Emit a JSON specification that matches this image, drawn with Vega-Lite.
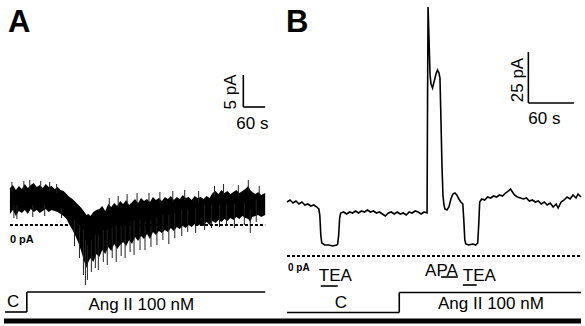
{
  "$schema": "https://vega.github.io/schema/vega-lite/v6.json",
  "width": 585,
  "height": 326,
  "autosize": {"type": "fit", "contains": "padding"},
  "padding": 0,
  "background": "white",
  "config": {"view": {"stroke": null}},
  "datasets": {
    "traceA": [
      {"x": 10, "top": 188, "bottom": 214}, {"x": 13, "top": 185, "bottom": 210}, {"x": 16, "top": 190, "bottom": 216},
      {"x": 19, "top": 186, "bottom": 211}, {"x": 22, "top": 189, "bottom": 213}, {"x": 25, "top": 184, "bottom": 210},
      {"x": 28, "top": 188, "bottom": 214}, {"x": 31, "top": 185, "bottom": 209}, {"x": 34, "top": 183, "bottom": 212},
      {"x": 37, "top": 187, "bottom": 210}, {"x": 40, "top": 185, "bottom": 213}, {"x": 43, "top": 188, "bottom": 211},
      {"x": 46, "top": 184, "bottom": 209}, {"x": 49, "top": 187, "bottom": 212}, {"x": 52, "top": 186, "bottom": 210},
      {"x": 55, "top": 189, "bottom": 211}, {"x": 58, "top": 187, "bottom": 212}, {"x": 61, "top": 190, "bottom": 214},
      {"x": 64, "top": 191, "bottom": 216}, {"x": 67, "top": 194, "bottom": 219}, {"x": 70, "top": 197, "bottom": 225},
      {"x": 73, "top": 199, "bottom": 230}, {"x": 76, "top": 202, "bottom": 236}, {"x": 79, "top": 205, "bottom": 243},
      {"x": 82, "top": 208, "bottom": 252}, {"x": 85, "top": 212, "bottom": 262}, {"x": 87, "top": 215, "bottom": 268},
      {"x": 89, "top": 214, "bottom": 262}, {"x": 91, "top": 216, "bottom": 258}, {"x": 94, "top": 212, "bottom": 262},
      {"x": 97, "top": 210, "bottom": 254}, {"x": 100, "top": 209, "bottom": 257}, {"x": 103, "top": 206, "bottom": 250},
      {"x": 106, "top": 211, "bottom": 254}, {"x": 109, "top": 204, "bottom": 247}, {"x": 112, "top": 207, "bottom": 251},
      {"x": 115, "top": 203, "bottom": 244}, {"x": 118, "top": 206, "bottom": 249}, {"x": 121, "top": 201, "bottom": 245},
      {"x": 124, "top": 204, "bottom": 242}, {"x": 127, "top": 200, "bottom": 246}, {"x": 130, "top": 205, "bottom": 240},
      {"x": 133, "top": 202, "bottom": 244}, {"x": 136, "top": 199, "bottom": 237}, {"x": 139, "top": 203, "bottom": 241},
      {"x": 142, "top": 198, "bottom": 236}, {"x": 145, "top": 201, "bottom": 239}, {"x": 148, "top": 199, "bottom": 234},
      {"x": 151, "top": 202, "bottom": 239}, {"x": 154, "top": 197, "bottom": 232}, {"x": 157, "top": 200, "bottom": 235},
      {"x": 160, "top": 198, "bottom": 231}, {"x": 163, "top": 201, "bottom": 233}, {"x": 166, "top": 197, "bottom": 230},
      {"x": 169, "top": 199, "bottom": 232}, {"x": 172, "top": 196, "bottom": 228}, {"x": 175, "top": 200, "bottom": 231},
      {"x": 178, "top": 197, "bottom": 227}, {"x": 181, "top": 199, "bottom": 229}, {"x": 184, "top": 195, "bottom": 226},
      {"x": 187, "top": 198, "bottom": 228}, {"x": 190, "top": 197, "bottom": 225}, {"x": 193, "top": 200, "bottom": 227},
      {"x": 196, "top": 196, "bottom": 224}, {"x": 199, "top": 198, "bottom": 226}, {"x": 202, "top": 197, "bottom": 224},
      {"x": 205, "top": 199, "bottom": 226}, {"x": 208, "top": 196, "bottom": 222}, {"x": 211, "top": 198, "bottom": 225},
      {"x": 214, "top": 193, "bottom": 221}, {"x": 217, "top": 191, "bottom": 223}, {"x": 220, "top": 194, "bottom": 220},
      {"x": 223, "top": 190, "bottom": 222}, {"x": 226, "top": 193, "bottom": 219}, {"x": 229, "top": 191, "bottom": 221},
      {"x": 232, "top": 194, "bottom": 218}, {"x": 235, "top": 192, "bottom": 220}, {"x": 238, "top": 190, "bottom": 217},
      {"x": 241, "top": 193, "bottom": 219}, {"x": 244, "top": 191, "bottom": 216}, {"x": 247, "top": 189, "bottom": 218},
      {"x": 250, "top": 186, "bottom": 219}, {"x": 252, "top": 190, "bottom": 222}, {"x": 254, "top": 192, "bottom": 217},
      {"x": 257, "top": 194, "bottom": 216}, {"x": 260, "top": 192, "bottom": 215}, {"x": 263, "top": 195, "bottom": 217},
      {"x": 267, "top": 193, "bottom": 215}
    ],
    "spikesA": [
      {"x": 12, "y": 182, "y2": 192}, {"x": 14, "y": 205, "y2": 218}, {"x": 17, "y": 205, "y2": 219}, {"x": 24, "y": 181, "y2": 190},
      {"x": 30, "y": 180, "y2": 190}, {"x": 33, "y": 205, "y2": 217}, {"x": 41, "y": 181, "y2": 190}, {"x": 45, "y": 205, "y2": 216},
      {"x": 50, "y": 182, "y2": 192}, {"x": 57, "y": 184, "y2": 193}, {"x": 62, "y": 208, "y2": 218},
      {"x": 75, "y": 220, "y2": 246}, {"x": 80, "y": 225, "y2": 258}, {"x": 84, "y": 230, "y2": 275}, {"x": 86, "y": 240, "y2": 285},
      {"x": 88, "y": 245, "y2": 280}, {"x": 92, "y": 240, "y2": 272}, {"x": 96, "y": 235, "y2": 268}, {"x": 99, "y": 235, "y2": 270},
      {"x": 104, "y": 230, "y2": 262}, {"x": 108, "y": 230, "y2": 265}, {"x": 113, "y": 228, "y2": 258}, {"x": 117, "y": 225, "y2": 262},
      {"x": 122, "y": 225, "y2": 256}, {"x": 126, "y": 225, "y2": 258}, {"x": 131, "y": 225, "y2": 252}, {"x": 135, "y": 220, "y2": 255},
      {"x": 141, "y": 220, "y2": 250}, {"x": 146, "y": 222, "y2": 250}, {"x": 152, "y": 220, "y2": 247}, {"x": 158, "y": 218, "y2": 245},
      {"x": 164, "y": 215, "y2": 240}, {"x": 170, "y": 215, "y2": 244}, {"x": 176, "y": 213, "y2": 238}, {"x": 183, "y": 210, "y2": 236},
      {"x": 189, "y": 210, "y2": 232}, {"x": 197, "y": 208, "y2": 233}, {"x": 206, "y": 205, "y2": 230}, {"x": 213, "y": 205, "y2": 228},
      {"x": 221, "y": 205, "y2": 227}, {"x": 228, "y": 205, "y2": 226}, {"x": 236, "y": 204, "y2": 228}, {"x": 246, "y": 203, "y2": 225},
      {"x": 252, "y": 210, "y2": 233}, {"x": 258, "y": 200, "y2": 222},
      {"x": 110, "y": 198, "y2": 210}, {"x": 119, "y": 196, "y2": 208}, {"x": 128, "y": 194, "y2": 205}, {"x": 138, "y": 193, "y2": 204},
      {"x": 150, "y": 193, "y2": 204}, {"x": 161, "y": 192, "y2": 203}, {"x": 174, "y": 191, "y2": 202}, {"x": 186, "y": 190, "y2": 200},
      {"x": 200, "y": 191, "y2": 202}, {"x": 216, "y": 186, "y2": 197}, {"x": 225, "y": 184, "y2": 195}, {"x": 240, "y": 185, "y2": 196},
      {"x": 250, "y": 180, "y2": 192}, {"x": 261, "y": 186, "y2": 196}
    ],
    "traceB": [
      {"x": 289, "y": 202}, {"x": 292, "y": 200}, {"x": 295, "y": 203}, {"x": 298, "y": 201}, {"x": 301, "y": 204},
      {"x": 304, "y": 202}, {"x": 307, "y": 205}, {"x": 310, "y": 204}, {"x": 313, "y": 206}, {"x": 316, "y": 205},
      {"x": 319, "y": 207}, {"x": 321, "y": 209}, {"x": 322, "y": 215}, {"x": 323, "y": 235}, {"x": 324, "y": 243},
      {"x": 327, "y": 245}, {"x": 331, "y": 245}, {"x": 335, "y": 246}, {"x": 339, "y": 245}, {"x": 340, "y": 244},
      {"x": 341, "y": 235}, {"x": 342, "y": 218}, {"x": 343, "y": 213}, {"x": 346, "y": 212}, {"x": 349, "y": 214},
      {"x": 352, "y": 212}, {"x": 355, "y": 213}, {"x": 358, "y": 211}, {"x": 361, "y": 213}, {"x": 364, "y": 211},
      {"x": 367, "y": 212}, {"x": 370, "y": 210}, {"x": 373, "y": 212}, {"x": 376, "y": 211}, {"x": 379, "y": 213},
      {"x": 382, "y": 212}, {"x": 385, "y": 214}, {"x": 388, "y": 216}, {"x": 391, "y": 213}, {"x": 394, "y": 212},
      {"x": 397, "y": 214}, {"x": 400, "y": 212}, {"x": 403, "y": 214}, {"x": 406, "y": 213}, {"x": 409, "y": 215},
      {"x": 412, "y": 212}, {"x": 415, "y": 213}, {"x": 418, "y": 211}, {"x": 421, "y": 212}, {"x": 424, "y": 214},
      {"x": 427, "y": 212}, {"x": 430, "y": 213}, {"x": 430.5, "y": 100}, {"x": 431, "y": 7}, {"x": 432, "y": 40},
      {"x": 433, "y": 75}, {"x": 434, "y": 84}, {"x": 435.5, "y": 88}, {"x": 437, "y": 82}, {"x": 439, "y": 74},
      {"x": 440.5, "y": 70}, {"x": 442, "y": 73}, {"x": 443, "y": 78}, {"x": 444, "y": 120}, {"x": 445, "y": 165},
      {"x": 446, "y": 195}, {"x": 447, "y": 205}, {"x": 448, "y": 209}, {"x": 450, "y": 210}, {"x": 452, "y": 207},
      {"x": 454, "y": 199}, {"x": 456, "y": 194}, {"x": 458, "y": 193}, {"x": 460, "y": 195}, {"x": 462, "y": 199},
      {"x": 464, "y": 202}, {"x": 466, "y": 204}, {"x": 467, "y": 220}, {"x": 468, "y": 240}, {"x": 469, "y": 244},
      {"x": 472, "y": 245}, {"x": 476, "y": 244}, {"x": 479, "y": 245}, {"x": 481, "y": 243}, {"x": 482, "y": 225},
      {"x": 483, "y": 202}, {"x": 485, "y": 199}, {"x": 488, "y": 200}, {"x": 491, "y": 197}, {"x": 494, "y": 198},
      {"x": 497, "y": 196}, {"x": 500, "y": 197}, {"x": 503, "y": 195}, {"x": 506, "y": 196}, {"x": 509, "y": 193},
      {"x": 512, "y": 191}, {"x": 514, "y": 189}, {"x": 516, "y": 192}, {"x": 518, "y": 195}, {"x": 521, "y": 197},
      {"x": 524, "y": 198}, {"x": 527, "y": 199}, {"x": 530, "y": 198}, {"x": 533, "y": 201}, {"x": 536, "y": 200},
      {"x": 539, "y": 202}, {"x": 542, "y": 201}, {"x": 545, "y": 204}, {"x": 548, "y": 202}, {"x": 551, "y": 205},
      {"x": 554, "y": 203}, {"x": 557, "y": 207}, {"x": 560, "y": 204}, {"x": 562, "y": 208}, {"x": 565, "y": 202},
      {"x": 568, "y": 200}, {"x": 571, "y": 197}, {"x": 574, "y": 199}, {"x": 577, "y": 195}, {"x": 580, "y": 198},
      {"x": 582, "y": 194}, {"x": 585, "y": 197}
    ],
    "zeroLines": [
      {"x": 10, "x2": 267, "y": 225},
      {"x": 289, "x2": 585, "y": 256}
    ],
    "segments": [
      {"x": 245, "y": 75, "x2": 245, "y2": 107},
      {"x": 245, "y": 107, "x2": 267, "y2": 107},
      {"x": 532, "y": 52, "x2": 532, "y2": 103},
      {"x": 532, "y": 103, "x2": 578, "y2": 103},
      {"x": 5, "y": 312, "x2": 27, "y2": 312},
      {"x": 27, "y": 312, "x2": 27, "y2": 292},
      {"x": 27, "y": 292, "x2": 267, "y2": 292},
      {"x": 289, "y": 312.5, "x2": 402, "y2": 312.5},
      {"x": 402, "y": 312.5, "x2": 402, "y2": 292.5},
      {"x": 402, "y": 292.5, "x2": 585, "y2": 292.5},
      {"x": 323, "y": 286, "x2": 340, "y2": 286},
      {"x": 444, "y": 277, "x2": 461, "y2": 277},
      {"x": 466, "y": 285, "x2": 480, "y2": 285}
    ],
    "baseBar": [{"x": 4, "x2": 585, "y": 321}],
    "panelLabels": [
      {"x": 8, "y": 32, "label": "A"},
      {"x": 288, "y": 32, "label": "B"}
    ],
    "labels": [
      {"x": 89, "y": 310, "label": "Ang II 100 nM"},
      {"x": 441, "y": 309, "label": "Ang II 100 nM"},
      {"x": 7, "y": 307, "label": "C"},
      {"x": 337, "y": 308, "label": "C"},
      {"x": 321, "y": 281, "label": "TEA"},
      {"x": 466, "y": 281, "label": "TEA"},
      {"x": 428, "y": 276, "label": "APA"},
      {"x": 238, "y": 129, "label": "60 s"},
      {"x": 532, "y": 124, "label": "60 s"}
    ],
    "rotLabels": [
      {"x": 238, "y": 92, "label": "5 pA"},
      {"x": 527, "y": 80, "label": "25 pA"}
    ],
    "zeroLabelA": [
      {"x": 10, "y": 243, "label": "0 pA"}
    ],
    "zeroLabelB": [
      {"x": 290, "y": 271, "label": "0 pA"}
    ]
  },
  "layer": [
    {
      "data": {"name": "traceA"},
      "mark": {"type": "area", "color": "black", "opacity": 1},
      "encoding": {
        "x": {"field": "x", "type": "quantitative", "scale": {"domain": [0, 585], "nice": false, "zero": false}, "axis": null},
        "y": {"field": "top", "type": "quantitative", "scale": {"domain": [0, 326], "nice": false, "zero": false, "reverse": true}, "axis": null},
        "y2": {"field": "bottom"}
      }
    },
    {
      "data": {"name": "spikesA"},
      "mark": {"type": "rule", "color": "#222222", "strokeWidth": 1},
      "encoding": {
        "x": {"field": "x", "type": "quantitative"},
        "y": {"field": "y", "type": "quantitative"},
        "y2": {"field": "y2"}
      }
    },
    {
      "data": {"name": "traceB"},
      "mark": {"type": "line", "color": "black", "strokeWidth": 1.6},
      "encoding": {
        "x": {"field": "x", "type": "quantitative"},
        "y": {"field": "y", "type": "quantitative"}
      }
    },
    {
      "data": {"name": "zeroLines"},
      "mark": {"type": "rule", "color": "black", "strokeWidth": 1.8, "strokeDash": [3, 2]},
      "encoding": {
        "x": {"field": "x", "type": "quantitative"},
        "x2": {"field": "x2"},
        "y": {"field": "y", "type": "quantitative"}
      }
    },
    {
      "data": {"name": "segments"},
      "mark": {"type": "rule", "color": "black", "strokeWidth": 1.6},
      "encoding": {
        "x": {"field": "x", "type": "quantitative"},
        "x2": {"field": "x2"},
        "y": {"field": "y", "type": "quantitative"},
        "y2": {"field": "y2"}
      }
    },
    {
      "data": {"name": "baseBar"},
      "mark": {"type": "rule", "color": "black", "strokeWidth": 5},
      "encoding": {
        "x": {"field": "x", "type": "quantitative"},
        "x2": {"field": "x2"},
        "y": {"field": "y", "type": "quantitative"}
      }
    },
    {
      "data": {"name": "panelLabels"},
      "mark": {"type": "text", "font": "Liberation Sans", "fontWeight": "bold", "fontSize": 31, "align": "left", "baseline": "alphabetic", "color": "black"},
      "encoding": {
        "x": {"field": "x", "type": "quantitative"},
        "y": {"field": "y", "type": "quantitative"},
        "text": {"field": "label"}
      }
    },
    {
      "data": {"name": "labels"},
      "mark": {"type": "text", "font": "Liberation Sans", "fontSize": 17, "align": "left", "baseline": "alphabetic", "color": "black"},
      "encoding": {
        "x": {"field": "x", "type": "quantitative"},
        "y": {"field": "y", "type": "quantitative"},
        "text": {"field": "label"}
      }
    },
    {
      "data": {"name": "rotLabels"},
      "mark": {"type": "text", "font": "Liberation Sans", "fontSize": 17, "angle": 270, "align": "center", "baseline": "alphabetic", "color": "black"},
      "encoding": {
        "x": {"field": "x", "type": "quantitative"},
        "y": {"field": "y", "type": "quantitative"},
        "text": {"field": "label"}
      }
    },
    {
      "data": {"name": "zeroLabelA"},
      "mark": {"type": "text", "font": "Liberation Sans", "fontWeight": "bold", "fontSize": 11, "align": "left", "baseline": "alphabetic", "color": "black"},
      "encoding": {
        "x": {"field": "x", "type": "quantitative"},
        "y": {"field": "y", "type": "quantitative"},
        "text": {"field": "label"}
      }
    },
    {
      "data": {"name": "zeroLabelB"},
      "mark": {"type": "text", "font": "Liberation Sans", "fontWeight": "bold", "fontSize": 10, "align": "left", "baseline": "alphabetic", "color": "black"},
      "encoding": {
        "x": {"field": "x", "type": "quantitative"},
        "y": {"field": "y", "type": "quantitative"},
        "text": {"field": "label"}
      }
    }
  ]
}
